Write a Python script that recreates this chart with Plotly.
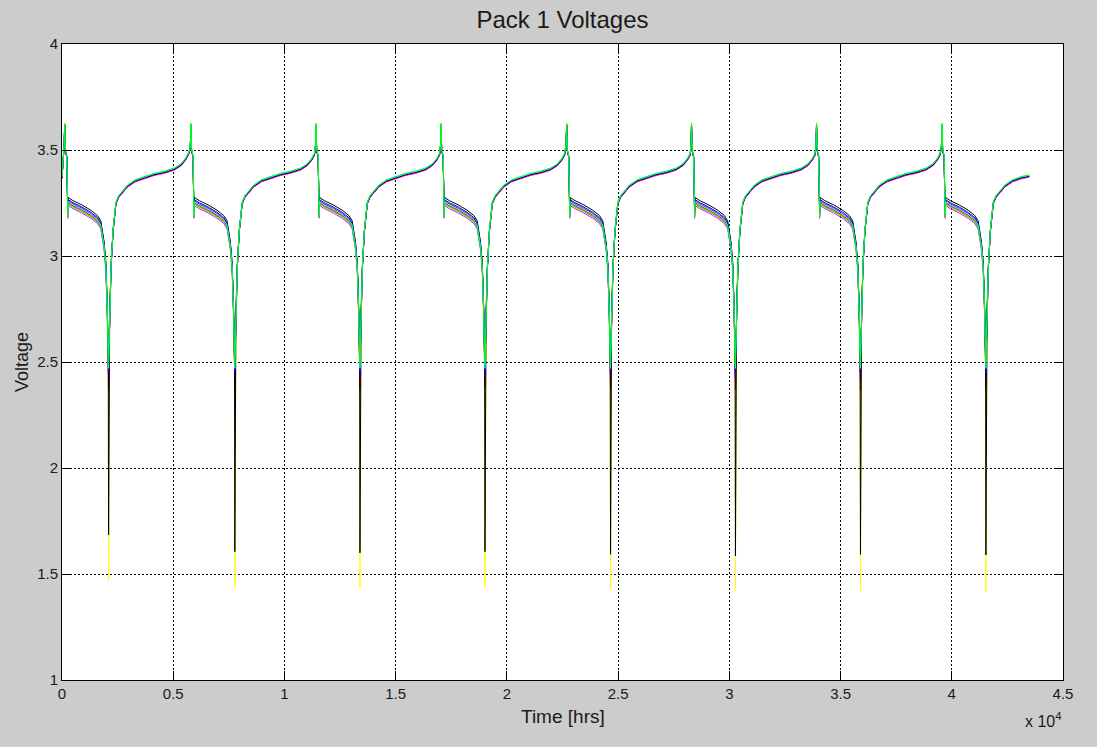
import plotly.graph_objects as go

# ---- cycle timing [hrs] ----
CYCLE_PEAK_HRS = [95, 5770, 11395, 17015, 22660, 28275, 33895, 39535]
BOTTOM_AFTER_PEAK_HRS = 2000
END_HRS = 43480
END_V = 3.377

# lead-in before the first charge peak
LEAD_IN_HRS = [0, 40, 75]
LEAD_IN_V = [3.37, 3.42, 3.48]

# discharge leg, hours after each charge peak
DISCHARGE_OFFSET_HRS = [0, 25, 55, 120, 150, 165, 185, 400, 800, 1200, 1500,
                        1650, 1700, 1740, 1800, 1880, 1940, 1985]
DISCHARGE_V = [3.52, 3.62, 3.50, 3.47, 3.27, 3.20, 3.26, 3.245, 3.225, 3.20,
               3.175, 3.15, 3.10, 3.09, 3.05, 2.95, 2.75, 2.50]
PLATEAU_START_HRS = 150

# recharge leg, hours after each discharge bottom
CHARGE_OFFSET_HRS = [15, 50, 110, 200, 330, 450, 600, 850, 1200, 1600, 2050,
                     2500, 2950, 3250, 3450, 3580, 3650]
CHARGE_V = [2.55, 2.75, 2.95, 3.12, 3.25, 3.28, 3.30, 3.33, 3.355, 3.37,
            3.385, 3.395, 3.41, 3.43, 3.455, 3.48, 3.50]

# ---- cells (drawing order: last drawn ends up on top) ----
CELL_NAMES = ["Cell 1", "Cell 2", "Cell 3", "Cell 4", "Cell 5",
              "Cell 6", "Cell 7", "Cell 8", "Cell 9"]
CELL_COLORS = ["#ffff00", "#ff8000", "#8000ff", "#ff0000", "#ff00ff",
               "#000000", "#0000ff", "#00ffff", "#00ff00"]
# offset of each cell from the pack curve on the discharge plateau [V]
CELL_PLATEAU_SHIFT_V = [0.005, -0.012, 0.0, -0.008, -0.022, 0.016, 0.006, -0.004, -0.015]
# offset of each cell on the recharge leg [V]
CELL_CHARGE_SHIFT_V = [0.0, -0.004, -0.002, -0.003, -0.005, -0.001, 0.001, 0.003, 0.005]
# lowest voltage reached by each cell at the end of every discharge [V]
CELL_MIN_V = [
    [1.468, 1.437, 1.432, 1.437, 1.425, 1.421, 1.420, 1.417],
    [2.40, 2.40, 2.40, 2.40, 2.40, 2.40, 2.40, 2.40],
    [2.44, 2.44, 2.44, 2.44, 2.44, 2.44, 2.44, 2.44],
    [2.37, 2.38, 2.37, 2.38, 2.37, 2.37, 2.37, 2.37],
    [2.42, 2.42, 2.42, 2.42, 2.42, 2.42, 2.42, 2.42],
    [1.684, 1.605, 1.600, 1.605, 1.593, 1.585, 1.593, 1.590],
    [2.45, 2.45, 2.45, 2.45, 2.45, 2.45, 2.45, 2.45],
    [2.47, 2.47, 2.47, 2.47, 2.47, 2.47, 2.47, 2.47],
    [2.50, 2.50, 2.50, 2.50, 2.50, 2.50, 2.50, 2.50],
]

X_TICK_VALS = [0, 5000, 10000, 15000, 20000, 25000, 30000, 35000, 40000, 45000]
X_TICK_TEXT = ["0", "0.5", "1", "1.5", "2", "2.5", "3", "3.5", "4", "4.5"]


def cell_trace(ci):
    t = list(LEAD_IN_HRS)
    v = [val + CELL_CHARGE_SHIFT_V[ci] for val in LEAD_IN_V]
    for k, peak in enumerate(CYCLE_PEAK_HRS):
        for off, val in zip(DISCHARGE_OFFSET_HRS, DISCHARGE_V):
            t.append(peak + off)
            shift = CELL_PLATEAU_SHIFT_V[ci] if off >= PLATEAU_START_HRS else CELL_CHARGE_SHIFT_V[ci]
            v.append(val + shift)
        bottom = peak + BOTTOM_AFTER_PEAK_HRS
        t.append(bottom)
        v.append(CELL_MIN_V[ci][k])
        limit = CYCLE_PEAK_HRS[k + 1] if k + 1 < len(CYCLE_PEAK_HRS) else END_HRS
        for off, val in zip(CHARGE_OFFSET_HRS, CHARGE_V):
            if bottom + off < limit - 5:
                t.append(bottom + off)
                v.append(val + CELL_CHARGE_SHIFT_V[ci])
    t.append(END_HRS)
    v.append(END_V + CELL_CHARGE_SHIFT_V[ci])
    return t, v


fig = go.Figure()
for ci, name in enumerate(CELL_NAMES):
    t, v = cell_trace(ci)
    fig.add_trace(go.Scatter(x=t, y=v, mode="lines", name=name,
                             line=dict(color=CELL_COLORS[ci], width=1),
                             showlegend=False, hoverinfo="skip"))

FONT = "Liberation Sans, Arial, sans-serif"
axis_common = dict(
    showline=True, linecolor="#000000", linewidth=1, mirror="ticks",
    ticks="inside", ticklen=9, tickwidth=1, tickcolor="#000000",
    showgrid=True, gridcolor="#000000", gridwidth=1, griddash="2px,2px",
    zeroline=False, tickfont=dict(family=FONT, size=15, color="#1a1a1a"),
)

fig.update_layout(
    width=1097, height=747,
    margin=dict(l=62, r=34, t=44, b=67),
    paper_bgcolor="#cccccc", plot_bgcolor="#ffffff",
    title=dict(text="Pack 1 Voltages", x=0.5, xref="paper", xanchor="center",
               y=1 - 20 / 747, yref="container", yanchor="middle",
               font=dict(family=FONT, size=24, color="#1a1a1a")),
    xaxis=dict(range=[0, 45000], tickvals=X_TICK_VALS, ticktext=X_TICK_TEXT,
               **axis_common),
    yaxis=dict(range=[1, 4], tickvals=[1, 1.5, 2, 2.5, 3, 3.5, 4],
               ticktext=["1", "1.5", "2", "2.5", "3", "3.5", "4"],
               **axis_common),
    annotations=[
        dict(text="Time [hrs]", x=0.5, xref="paper", y=(680 - 716) / 636, yref="paper",
             xanchor="center", yanchor="middle", showarrow=False,
             font=dict(family=FONT, size=19, color="#1a1a1a")),
        dict(text="Voltage", x=(22 - 62) / 1001, xref="paper", y=0.5, yref="paper",
             xanchor="center", yanchor="middle", textangle=-90, showarrow=False,
             font=dict(family=FONT, size=18, color="#1a1a1a")),
        dict(text="x 10<sup>4</sup>", x=1.0, xref="paper", y=(680 - 720) / 636, yref="paper",
             xanchor="right", yanchor="middle", showarrow=False,
             font=dict(family=FONT, size=16, color="#1a1a1a")),
    ],
)

fig.write_html("out.html")
